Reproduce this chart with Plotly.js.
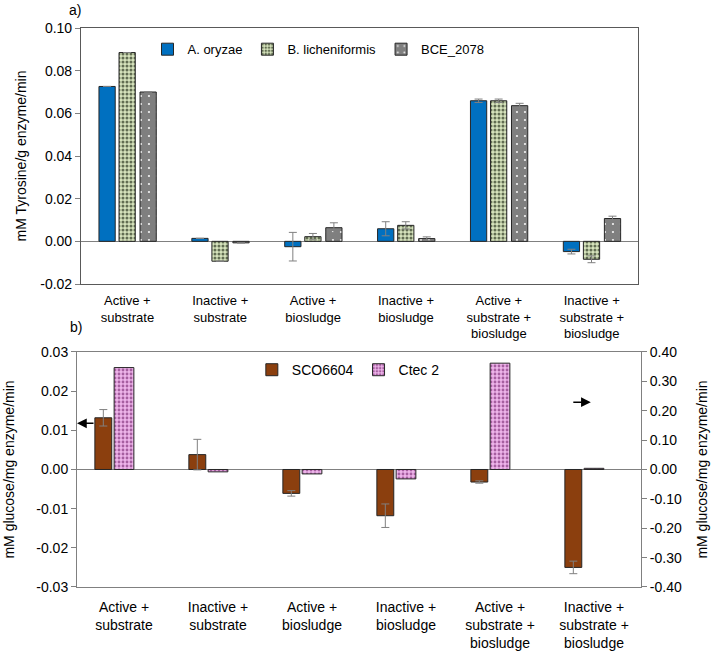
<!DOCTYPE html>
<html>
<head>
<meta charset="utf-8">
<script src="https://cdn.plot.ly/plotly-3.0.1.min.js"></script>
<style>
  html, body { margin: 0; padding: 0; background: #fff; }
  #gd { width: 714px; height: 652px; }
</style>
</head>
<body>
<div id="gd"></div>
<script>
"use strict";

/* categories */
var categories = [
	"Active +<br>substrate",
	"Inactive +<br>substrate",
	"Active +<br>biosludge",
	"Inactive +<br>biosludge",
	"Active +<br>substrate +<br>biosludge",
	"Inactive +<br>substrate +<br>biosludge"
];

/* panel a) protease activity, mM Tyrosine/g enzyme/min */
var oryzae      = [0.0726, 0.0014, -0.0025, 0.0059, 0.0659, -0.0048];
var oryzaeErr   = [0.0000, 0.0000,  0.0067, 0.0033, 0.0008,  0.0011];
var lichen      = [0.0885, -0.0093, 0.0022, 0.0075, 0.0659, -0.0084];
var lichenErr   = [0.0000, 0.0000,  0.0015, 0.0017, 0.0008,  0.0016];
var bce         = [0.0700, -0.0007, 0.0064, 0.0013, 0.0636,  0.0107];
var bceErr      = [0.0000, 0.0000,  0.0023, 0.0008, 0.0011,  0.0011];

/* panel b) cellulase activity, mM glucose/mg enzyme/min */
var sco         = [0.0132, 0.0038, -0.0061, -0.0118, -0.0032, -0.0250];
var scoErr      = [0.0021, 0.0039,  0.0007,  0.0030,  0.0003,  0.0016];
var ctec        = [0.347, -0.008, -0.015, -0.032, 0.362, 0.004];

/* tick labels */
var tickA     = [-0.02, 0.00, 0.02, 0.04, 0.06, 0.08, 0.10];
var tickAText = ["-0.02", "0.00", "0.02", "0.04", "0.06", "0.08", "0.10"];
var tickB     = [-0.03, -0.02, -0.01, 0.00, 0.01, 0.02, 0.03];
var tickBText = ["-0.03", "-0.02", "-0.01", "0.00", "0.01", "0.02", "0.03"];
var tickC     = [-0.4, -0.3, -0.2, -0.1, 0.0, 0.1, 0.2, 0.3, 0.4];
var tickCText = ["-0.40", "-0.30", "-0.20", "-0.10", "0.00", "0.10", "0.20", "0.30", "0.40"];

var font = "Liberation Sans, Arial, sans-serif";
var errStyle = function (arr) {
	return { type: 'data', array: arr, visible: true, color: '#808080', thickness: 1, width: 4 };
};
var barLine = { color: '#262626', width: 1 };

var traces = [
	{
		x: categories, y: oryzae, type: 'bar', name: 'A. oryzae',
		xaxis: 'x', yaxis: 'y', legend: 'legend',
		width: 0.175, offset: -0.306,
		marker: { color: '#0070c0', line: barLine },
		error_y: errStyle(oryzaeErr)
	},
	{
		x: categories, y: lichen, type: 'bar', name: 'B. licheniformis',
		xaxis: 'x', yaxis: 'y', legend: 'legend',
		width: 0.175, offset: -0.09,
		marker: { color: '#d7e4bd', line: barLine,
			pattern: { shape: '.', fgcolor: '#5f6b50', bgcolor: '#d7e4bd', size: 4, solidity: 0.45, fillmode: 'replace' } },
		error_y: errStyle(lichenErr)
	},
	{
		x: categories, y: bce, type: 'bar', name: 'BCE_2078',
		xaxis: 'x', yaxis: 'y', legend: 'legend',
		width: 0.175, offset: 0.136,
		marker: { color: '#7f7f7f', line: barLine,
			pattern: { shape: '.', fgcolor: '#ffffff', bgcolor: '#7f7f7f', size: 8, solidity: 0.05, fillmode: 'replace' } },
		error_y: errStyle(bceErr)
	},
	{
		x: categories, y: sco, type: 'bar', name: 'SCO6604',
		xaxis: 'x2', yaxis: 'y2', legend: 'legend2',
		width: 0.18, offset: -0.31,
		marker: { color: '#8b3f0e', line: barLine },
		error_y: errStyle(scoErr)
	},
	{
		x: categories, y: ctec, type: 'bar', name: 'Ctec 2',
		xaxis: 'x2', yaxis: 'y3', legend: 'legend2',
		width: 0.21, offset: -0.105,
		marker: { color: '#eeb4ea', line: barLine,
			pattern: { shape: '.', fgcolor: '#a65ea0', bgcolor: '#eeb4ea', size: 4, solidity: 0.4, fillmode: 'replace' } }
	}
];

var yCommon = {
	ticks: 'outside', ticklen: 5, tickcolor: '#808080',
	showgrid: false, zeroline: true, zerolinecolor: '#808080', zerolinewidth: 1.5,
	showline: true, linecolor: '#808080', linewidth: 1,
	tickfont: { family: font, size: 14, color: '#000' }
};

var layout = {
	width: 714, height: 652,
	margin: { l: 77, r: 73, t: 28, b: 65 },
	paper_bgcolor: '#fff', plot_bgcolor: '#fff',
	font: { family: font, size: 13, color: '#000' },
	showlegend: true,
	xaxis: {
		domain: [0.007, 0.995], anchor: 'y',
		showline: true, mirror: true, linecolor: '#595959', linewidth: 1,
		ticks: '', showgrid: false, ticklabelstandoff: 4,
		tickfont: { family: font, size: 13, color: '#000' }
	},
	yaxis: Object.assign({}, yCommon, {
		domain: [0.542, 1], anchor: 'x',
		range: [-0.02, 0.1], tickvals: tickA, ticktext: tickAText,
		linecolor: '#595959', mirror: true,
		title: { text: 'mM Tyrosine/g enzyme/min', font: { family: font, size: 14 }, standoff: 10 }
	}),
	xaxis2: {
		domain: [0, 1], anchor: 'y2',
		showline: true, mirror: true, linecolor: '#808080', linewidth: 1,
		ticks: '', showgrid: false, ticklabelstandoff: 7,
		tickfont: { family: font, size: 14, color: '#000' }
	},
	yaxis2: Object.assign({}, yCommon, {
		domain: [0, 0.4204], anchor: 'x2',
		range: [-0.03, 0.03], tickvals: tickB, ticktext: tickBText,
		title: { text: 'mM glucose/mg enzyme/min', font: { family: font, size: 14 }, standoff: 18 }
	}),
	yaxis3: Object.assign({}, yCommon, {
		overlaying: 'y2', side: 'right', anchor: 'x2',
		range: [-0.4, 0.4], tickvals: tickC, ticktext: tickCText,
		zeroline: false,
		title: { text: 'mM glucose/mg enzyme/min', font: { family: font, size: 14 }, standoff: 16 }
	}),
	legend: {
		orientation: 'h', x: 0.125, y: 0.962, xanchor: 'left', yanchor: 'middle',
		bgcolor: 'rgba(0,0,0,0)', font: { family: font, size: 13 },
		itemwidth: 30, traceorder: 'normal'
	},
	legend2: {
		orientation: 'h', x: 0.31, y: 0.388, xanchor: 'left', yanchor: 'middle',
		bgcolor: 'rgba(0,0,0,0)', font: { family: font, size: 14 },
		itemwidth: 30, traceorder: 'normal'
	},
	annotations: [
		{ text: 'a)', xref: 'paper', yref: 'paper', x: -0.004, y: 1.032, xanchor: 'center', yanchor: 'middle',
			showarrow: false, font: { family: font, size: 14 } },
		{ text: 'b)', xref: 'paper', yref: 'paper', x: -0.002, y: 0.466, xanchor: 'center', yanchor: 'middle',
			showarrow: false, font: { family: font, size: 14 } },
		{ text: '', xref: 'paper', yref: 'y2', x: 0, y: 0.0118, ax: 18, ay: 0,
			showarrow: true, arrowhead: 2, arrowsize: 1.3, arrowwidth: 1.5, arrowcolor: '#000' },
		{ text: '', xref: 'paper', yref: 'y3', x: 0.911, y: 0.229, ax: -19, ay: 0,
			showarrow: true, arrowhead: 2, arrowsize: 1.3, arrowwidth: 1.5, arrowcolor: '#000' }
	]
};

Plotly.newPlot('gd', traces, layout, { displayModeBar: false, staticPlot: true });
</script>
</body>
</html>
